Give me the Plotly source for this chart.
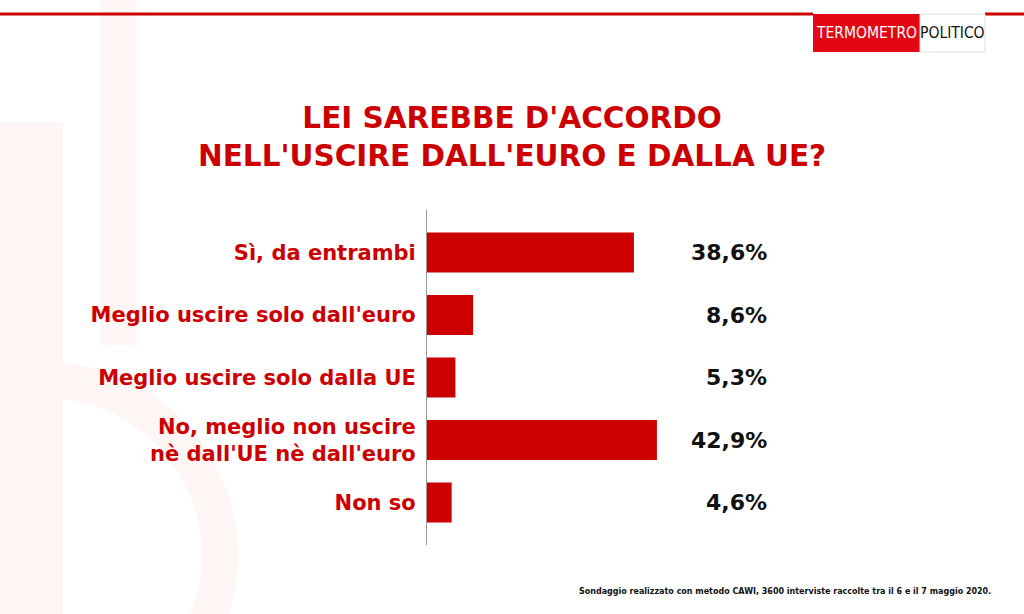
import plotly.graph_objects as go

categories = ["Sì, da entrambi", "Meglio uscire solo dall'euro", "Meglio uscire solo dalla UE",
              "No, meglio non uscire<br>nè dall'UE nè dall'euro", "Non so"]
values = [38.6, 8.6, 5.3, 42.9, 4.6]
value_labels = ["38,6%", "8,6%", "5,3%", "42,9%", "4,6%"]

title_text = "LEI SAREBBE D'ACCORDO<br>NELL'USCIRE DALL'EURO E DALLA UE?"
footnote = "Sondaggio realizzato con metodo CAWI, 3600 interviste raccolte tra il 6 e il 7 maggio 2020."

RED = "#cc0000"
W, H = 1024, 614
L, R, T, B = 427, 1024 - 787, 210, 614 - 545
PW, PH = W - L - R, H - T - B


def px(x):
    return (x - L) / PW


def py(y):
    return (H - B - y) / PH


fig = go.Figure()
fig.add_trace(go.Bar(
    y=categories, x=values, orientation="h", width=0.64,
    marker=dict(color=RED, line=dict(width=0)), hoverinfo="skip", showlegend=False,
))

for c, lab in zip(categories, value_labels):
    fig.add_annotation(x=px(769), xref="paper", y=c, yref="y",
                       text=lab, showarrow=False, xanchor="right",
                       font=dict(family="DejaVu Sans", size=22, color="#111111", weight=700))

WM = "#fef5f5"
shapes = [
    # faint watermark
    dict(type="rect", xref="paper", yref="paper", x0=px(100), x1=px(137), y0=py(345), y1=py(0),
         fillcolor=WM, line=dict(width=0), layer="below"),
    dict(type="rect", xref="paper", yref="paper", x0=px(0), x1=px(63), y0=py(614), y1=py(122),
         fillcolor=WM, line=dict(width=0), layer="below"),
    dict(type="circle", xref="paper", yref="paper", x0=px(-130), x1=px(220), y0=py(730), y1=py(380),
         fillcolor="rgba(0,0,0,0)", line=dict(color=WM, width=36), layer="below"),
    # top red line
    dict(type="line", xref="paper", yref="paper", x0=px(0), x1=px(813), y0=py(14), y1=py(14),
         line=dict(color=RED, width=3)),
    dict(type="line", xref="paper", yref="paper", x0=px(985), x1=px(1024), y0=py(14), y1=py(14),
         line=dict(color=RED, width=3)),
    # logo boxes
    dict(type="rect", xref="paper", yref="paper", x0=px(813), x1=px(920), y0=py(52), y1=py(14),
         fillcolor="#e30613", line=dict(width=0)),
    dict(type="rect", xref="paper", yref="paper", x0=px(920), x1=px(985), y0=py(52), y1=py(14),
         fillcolor="white", line=dict(color="#dddddd", width=1)),
]

annotations = [
    dict(x=px(866.5), y=py(33), text="TERMOMETRO",
         font=dict(family="DejaVu Sans Condensed", size=15.5, color="white")),
    dict(x=px(952.5), y=py(33), text="POLITICO",
         font=dict(family="DejaVu Sans Condensed", size=15.5, color="#111111")),
    dict(x=px(512), y=py(137), text=title_text, align="center",
         font=dict(family="DejaVu Sans", size=29.5, color=RED, weight=700)),
    dict(x=px(993), y=py(591), text=footnote, xanchor="right",
         font=dict(family="DejaVu Sans", size=8, color="#111111", weight=700)),
]
for a in annotations:
    a.setdefault("xanchor", "center")
    fig.add_annotation(xref="paper", yref="paper", showarrow=False, yanchor="middle", **a)

fig.update_layout(
    width=W, height=H,
    margin=dict(l=L, r=R, t=T, b=B),
    paper_bgcolor="white", plot_bgcolor="rgba(0,0,0,0)",
    shapes=shapes,
    xaxis=dict(range=[0, PW / 5.36], visible=False, fixedrange=True),
    yaxis=dict(categoryorder="array", categoryarray=categories, range=[4.68, -0.68],
               showline=True, linecolor="#999999", linewidth=1, showgrid=False, zeroline=False,
               ticks="", ticklabelstandoff=6, fixedrange=True,
               tickfont=dict(family="DejaVu Sans", size=21, color=RED, weight=700)),
)

fig.write_html("out.html", config={"displayModeBar": False},
               post_script="document.body.style.margin='0';")
